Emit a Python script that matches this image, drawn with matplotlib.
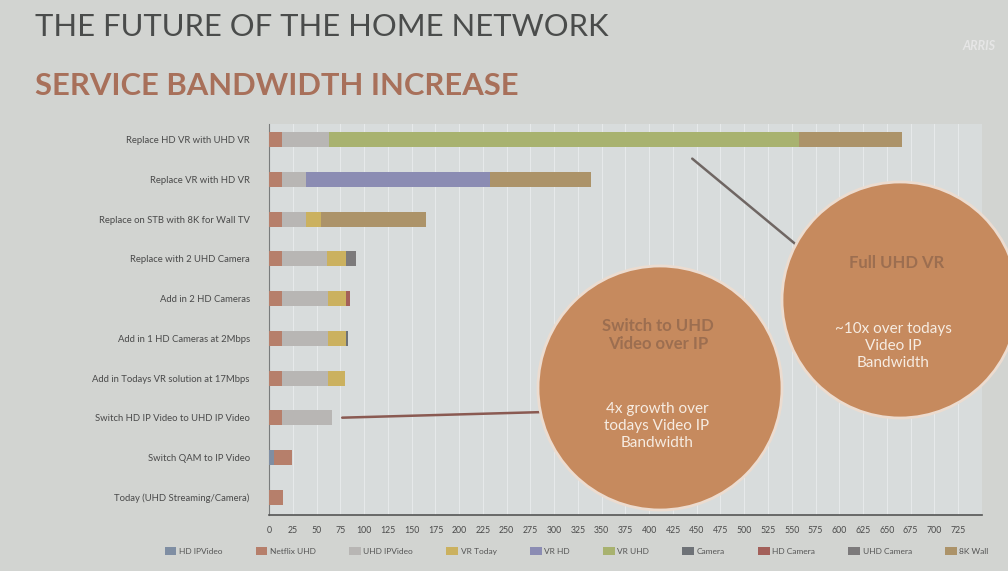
import numpy as np
import matplotlib
matplotlib.use("Agg")
import matplotlib.pyplot as plt
from matplotlib.patches import Circle

plt.rcParams['font.family'] = ['Lato', 'DejaVu Sans']

# rows from bottom to top
scenarios = ['Today (UHD Streaming/Camera)',
             'Switch QAM to IP Video',
             'Switch HD IP Video to UHD IP Video',
             'Add in Todays VR solution at 17Mbps',
             'Add in 1 HD Cameras at 2Mbps',
             'Add in 2 HD Cameras',
             'Replace with 2 UHD Camera',
             'Replace on STB with 8K for Wall TV',
             'Replace VR with HD VR',
             'Replace HD VR with UHD VR']

hd_ipvideo  = [0, 5, 0, 0, 0, 0, 0, 0, 0, 0]
netflix_uhd = [15, 19, 14, 14, 14, 14, 14, 14, 14, 14]
uhd_ipvideo = [0, 0, 52, 48, 48, 48, 47, 25, 25, 49]
vr_today    = [0, 0, 0, 18, 19, 19, 20, 16, 0, 0]
vr_hd       = [0, 0, 0, 0, 0, 0, 0, 0, 193, 0]
vr_uhd      = [0, 0, 0, 0, 0, 0, 0, 0, 0, 495]
camera      = [0, 0, 0, 0, 2, 0, 0, 0, 0, 0]
hd_camera   = [0, 0, 0, 0, 0, 4, 0, 0, 0, 0]
uhd_camera  = [0, 0, 0, 0, 0, 0, 10, 0, 0, 0]
wall_8k     = [0, 0, 0, 0, 0, 0, 0, 110, 107, 108]

series = [('HD IPVideo', hd_ipvideo, '#7f8ea3'),
          ('Netflix UHD', netflix_uhd, '#b67f6b'),
          ('UHD IPVideo', uhd_ipvideo, '#b8b6b4'),
          ('VR Today', vr_today, '#cbb15f'),
          ('VR HD', vr_hd, '#8b8cb3'),
          ('VR UHD', vr_uhd, '#a8b26f'),
          ('Camera', camera, '#6e7277'),
          ('HD Camera', hd_camera, '#a3605a'),
          ('UHD Camera', uhd_camera, '#7c7a7b'),
          ('8K Wall', wall_8k, '#ac9369')]

xticks = np.arange(0, 726, 25)

fig = plt.figure(figsize=(10.08, 5.71), dpi=100, facecolor='#d2d4d1')
ax = fig.add_axes([0.267, 0.098, 0.707, 0.685], facecolor='#d8dcdc')

y = np.arange(len(scenarios))
left = np.zeros(len(scenarios))
for name, vals, col in series:
    vals = np.array(vals, dtype=float)
    ax.barh(y, vals, left=left, height=0.38, color=col, label=name,
            edgecolor='none', zorder=3)
    left += vals

ax.set_xlim(0, 750)
ax.set_ylim(-0.45, 9.4)
ax.set_xticks(xticks)
ax.set_xticklabels([str(t) for t in xticks], fontsize=6.3, color='#4a4a4a')
ax.set_yticks(y)
ax.set_yticklabels(scenarios, fontsize=6.8, color='#4a4a4a')
ax.tick_params(axis='both', length=0, pad=8)
ax.tick_params(axis='y', pad=14)
ax.grid(axis='x', color='#e6e9ea', lw=0.8, zorder=0)
for s in ['top', 'right']:
    ax.spines[s].set_visible(False)
ax.spines['left'].set_color('#7a7c7c')
ax.spines['bottom'].set_color('#555555')
ax.spines['bottom'].set_linewidth(1.2)

fig.legend(loc='center', bbox_to_anchor=(0.572, 0.035), ncol=10, fontsize=6,
           frameon=False, handlelength=1.4, handleheight=1.0, columnspacing=4.0,
           handletextpad=0.3, labelcolor='#555555')

# connector lines from bars to the callouts
ax.annotate('', xy=(left[2] + 8, 2), xytext=(545, 571 - 412),
            textcoords='figure pixels', annotation_clip=False,
            arrowprops=dict(arrowstyle='-', color='#8a5a52', lw=1.8))
ax.annotate('', xy=(443, 8.57), xytext=(805, 571 - 252),
            textcoords='figure pixels', annotation_clip=False,
            arrowprops=dict(arrowstyle='-', color='#6f6663', lw=1.8))

fig.text(0.035, 0.952, 'THE FUTURE OF THE HOME NETWORK', fontsize=22.3,
         color='#4a4c4b', va='center')
fig.text(0.035, 0.85, 'SERVICE BANDWIDTH INCREASE', fontsize=22.3,
         color='#a8705a', va='center', fontweight='bold')
fig.text(0.955, 0.92, 'ARRIS', fontsize=9, color='#e6e6e6', va='center',
         style='italic', fontweight='bold')

# callout circles in pixel space
ov = fig.add_axes([0, 0, 1, 1], facecolor='none')
ov.set_xlim(0, 1008)
ov.set_ylim(571, 0)
ov.axis('off')
ov.add_patch(Circle((900, 300), 118, facecolor='#c68a5e', edgecolor='#ecdcd0', lw=2))
ov.add_patch(Circle((660, 388), 122, facecolor='#c68a5e', edgecolor='#ecdcd0', lw=2))
ov.text(658, 335, 'Switch to UHD\nVideo over IP', ha='center', va='center',
        fontsize=12, fontweight='bold', color='#9c6e50', linespacing=1.2)
ov.text(657, 426, '4x growth over\ntodays Video IP\nBandwidth', ha='center',
        va='center', fontsize=11, color='#f6ece2', linespacing=1.25)
ov.text(897, 263, 'Full UHD VR', ha='center', va='center', fontsize=12,
        fontweight='bold', color='#9c6e50')
ov.text(893, 346, '~10x over todays\nVideo IP\nBandwidth', ha='center',
        va='center', fontsize=11, color='#f6ece2', linespacing=1.25)

fig.savefig('out.png', dpi=100, facecolor=fig.get_facecolor())
